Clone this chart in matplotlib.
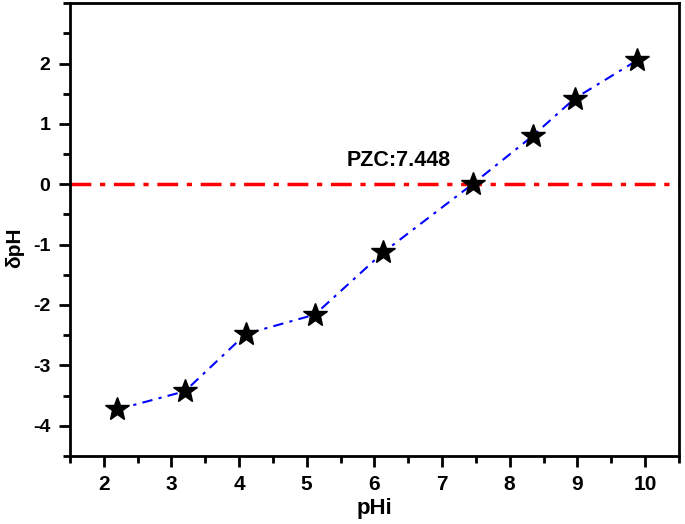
import matplotlib
matplotlib.use("Agg")
import matplotlib.pyplot as plt
from matplotlib.ticker import MultipleLocator

plt.rcParams['font.family'] = ['Liberation Sans', 'DejaVu Sans']
plt.rcParams['axes.unicode_minus'] = False

phi = [2.2, 3.2, 4.1, 5.12, 6.13, 7.46, 8.34, 8.96, 9.88]
dph = [-3.73, -3.43, -2.48, -2.16, -1.13, 0.01, 0.80, 1.42, 2.05]
pzc_label = "PZC:7.448"
x_label = "pHi"
y_label = "δpH"

fig = plt.figure(figsize=(6.85, 5.24), dpi=100)
ax = fig.add_axes([0.102, 0.130, 0.889, 0.864])

ax.axhline(0, color='red', linestyle=(0, (6, 2.5, 1.5, 2.5)), linewidth=2.5, zorder=1)
ax.plot(phi, dph, color='blue', linestyle=(0, (5, 3, 1.5, 3)), linewidth=1.5,
        marker='*', markersize=18, markerfacecolor='black', markeredgecolor='black', zorder=3)

ax.text(5.59, 0.40, pzc_label, fontsize=15.5, fontweight='bold', va='center', ha='left')

ax.set_xlim(1.5, 10.5)
ax.set_ylim(-4.5, 3)
ax.xaxis.set_minor_locator(MultipleLocator(0.5))
ax.yaxis.set_minor_locator(MultipleLocator(0.5))
ax.set_xticks(range(2, 11))
ax.set_yticks(range(-4, 3))

ax.tick_params(which='major', direction='out', length=8, width=2, pad=6)
ax.tick_params(which='minor', direction='out', length=5, width=2)
ax.tick_params(axis='x', which='major', labelsize=15, pad=6)
ax.tick_params(axis='y', which='major', labelsize=14, pad=6)
for lab in ax.get_xticklabels() + ax.get_yticklabels():
    lab.set_fontweight('bold')
for s in ax.spines.values():
    s.set_linewidth(2)

ax.set_xlabel(x_label, fontsize=16, fontweight='bold', va='center')
ax.set_ylabel(y_label, fontsize=15, fontweight='bold', va='center')
ax.xaxis.set_label_coords(0.5, -0.117)
ax.yaxis.set_label_coords(-0.090, 0.46)

fig.savefig("out.png", dpi=100)
